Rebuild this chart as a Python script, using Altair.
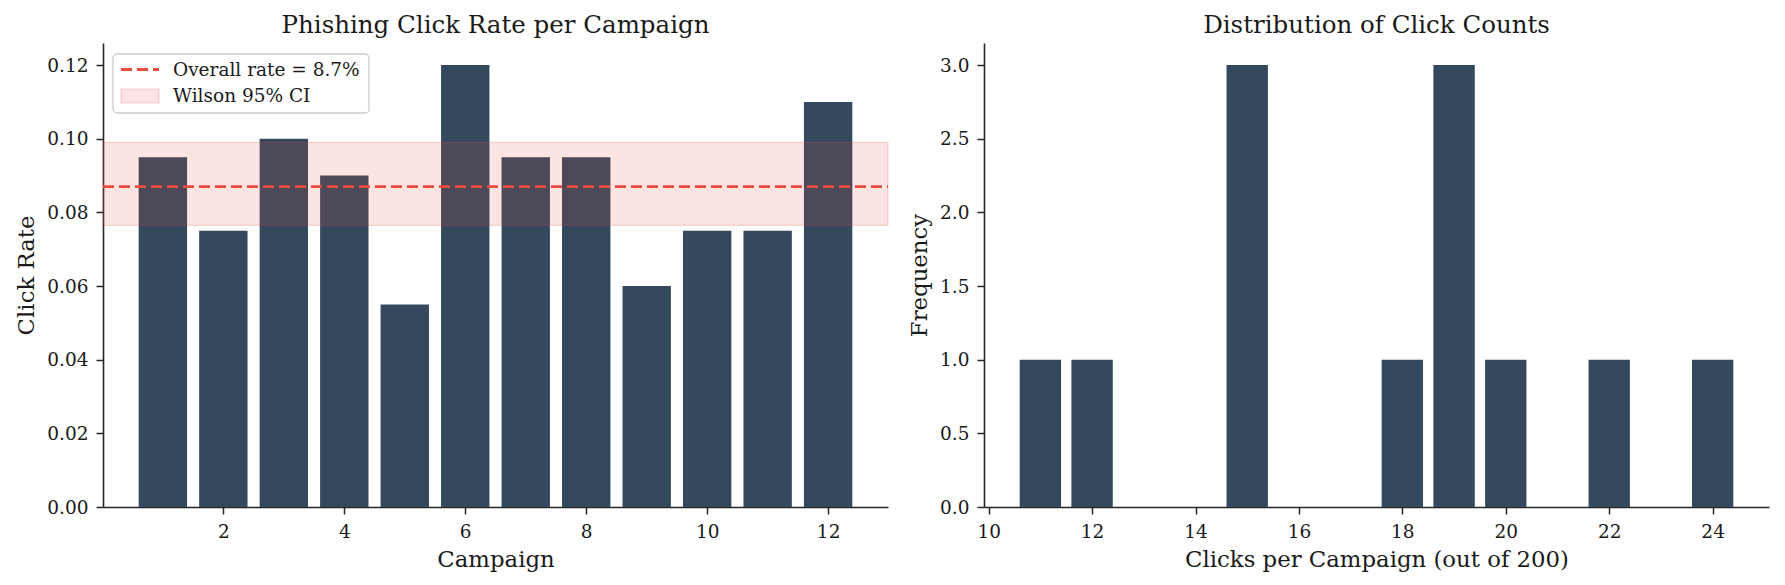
import altair as alt
import pandas as pd

# Per-campaign click rates (200 recipients each)
campaigns = [1, 2, 3, 4, 5, 6, 7, 8, 9, 10, 11, 12]
click_rates = [0.095, 0.075, 0.100, 0.090, 0.055, 0.120, 0.095, 0.095, 0.060, 0.075, 0.075, 0.110]

# Pooled rate and its Wilson 95% interval
overall_rate = 0.087
wilson_low = 0.0765
wilson_high = 0.0990

# Histogram of click counts per campaign
click_counts = [11, 12, 15, 18, 19, 20, 22, 24]
frequencies = [1, 1, 3, 1, 3, 1, 1, 1]

FONT = "DejaVu Serif"
BAR = "#34495e"
RED = "#e74c3c"
INK = "#1a1a1a"
W, H = 785, 464
TICK_FS = 18.5
LABEL_FS = 22.8
TITLE_FS = 24.5

rates_df = pd.DataFrame({"campaign": campaigns, "rate": click_rates})
ref_df = pd.DataFrame({"rate": [overall_rate], "lo": [wilson_low], "hi": [wilson_high]})
hist_df = pd.DataFrame({"clicks": click_counts, "freq": frequencies})
one = pd.DataFrame({"k": [0]})

# ---------- left panel: click rate per campaign ----------
x_left = alt.Scale(domain=[0.01, 12.99], nice=False, zero=False)
y_left = alt.Scale(domain=[0, 0.126], nice=False, zero=True)

bars = (
    alt.Chart(rates_df)
    .transform_calculate(x0="datum.campaign - 0.4", x1="datum.campaign + 0.4")
    .mark_rect(color=BAR)
    .encode(
        x=alt.X("x0:Q", scale=x_left,
                axis=alt.Axis(values=[2, 4, 6, 8, 10, 12], format="d", title="Campaign")),
        x2="x1:Q",
        y=alt.Y("rate:Q", scale=y_left,
                axis=alt.Axis(values=[0, 0.02, 0.04, 0.06, 0.08, 0.10, 0.12],
                              format=".2f", title="Click Rate")),
        y2=alt.datum(0),
    )
)

band = (
    alt.Chart(ref_df)
    .mark_rect(fill=RED, fillOpacity=0.15, stroke=RED, strokeOpacity=0.22, strokeWidth=1.2)
    .encode(x=alt.value(0), x2=alt.value(W), y=alt.Y("lo:Q", scale=y_left), y2="hi:Q")
)

overall = (
    alt.Chart(ref_df)
    .mark_rule(color=RED, strokeDash=[11, 5], strokeWidth=2.8)
    .encode(x=alt.value(0), x2=alt.value(W), y=alt.Y("rate:Q", scale=y_left))
)

# legend box in the upper-left corner
leg_box = alt.Chart(one).mark_rect(
    fill="white", fillOpacity=0.85, stroke="#cccccc", strokeWidth=1.3, cornerRadius=4
).encode(x=alt.value(10), x2=alt.value(266), y=alt.value(11), y2=alt.value(70))

leg_line = alt.Chart(one).mark_rule(color=RED, strokeDash=[11, 5], strokeWidth=2.8).encode(
    x=alt.value(18), x2=alt.value(56), y=alt.value(26.5)
)
leg_patch = alt.Chart(one).mark_rect(
    fill=RED, fillOpacity=0.15, stroke=RED, strokeOpacity=0.22, strokeWidth=1.2
).encode(x=alt.value(18), x2=alt.value(56), y=alt.value(46), y2=alt.value(60))

leg_text1 = alt.Chart(one).mark_text(
    text="Overall rate = 8.7%", align="left", baseline="middle", font=FONT,
    fontSize=TICK_FS, color=INK
).encode(x=alt.value(70), y=alt.value(26.5))
leg_text2 = alt.Chart(one).mark_text(
    text="Wilson 95% CI", align="left", baseline="middle", font=FONT,
    fontSize=TICK_FS, color=INK
).encode(x=alt.value(70), y=alt.value(53))

left = alt.layer(bars, band, overall, leg_box, leg_line, leg_patch, leg_text1, leg_text2).properties(
    width=W, height=H,
    title=alt.TitleParams("Phishing Click Rate per Campaign", font=FONT, fontSize=TITLE_FS,
                          fontWeight="normal", color=INK, anchor="middle", frame="group", offset=5),
)

# ---------- right panel: distribution of click counts ----------
x_right = alt.Scale(domain=[9.91, 25.09], nice=False, zero=False)
y_right = alt.Scale(domain=[0, 3.15], nice=False, zero=True)

hist = (
    alt.Chart(hist_df)
    .transform_calculate(x0="datum.clicks - 0.4", x1="datum.clicks + 0.4")
    .mark_rect(color=BAR)
    .encode(
        x=alt.X("x0:Q", scale=x_right,
                axis=alt.Axis(values=[10, 12, 14, 16, 18, 20, 22, 24], format="d",
                              title="Clicks per Campaign (out of 200)")),
        x2="x1:Q",
        y=alt.Y("freq:Q", scale=y_right,
                axis=alt.Axis(values=[0, 0.5, 1.0, 1.5, 2.0, 2.5, 3.0], format=".1f",
                              title="Frequency")),
        y2=alt.datum(0),
    )
    .properties(
        width=W, height=H,
        title=alt.TitleParams("Distribution of Click Counts", font=FONT, fontSize=TITLE_FS,
                              fontWeight="normal", color=INK, anchor="middle", frame="group",
                              offset=5),
    )
)

chart = (
    alt.hconcat(left, hist, spacing=18)
    .properties(padding={"left": 15, "top": 12, "right": 5, "bottom": 5}, background="white")
    .configure_view(stroke=None)
    .configure_axis(
        grid=False,
        labelFont=FONT, labelFontSize=TICK_FS, labelColor=INK, labelPadding=8,
        labelFlush=False, labelOverlap=False,
        titleFont=FONT, titleFontSize=LABEL_FS, titleFontWeight="normal", titleColor=INK,
        titlePadding=8,
        tickSize=7, tickWidth=1.5, tickColor="#262626",
        domainColor="#262626", domainWidth=1.6,
    )
)

chart.save("out.html", embed_options={"renderer": "svg", "actions": False})
